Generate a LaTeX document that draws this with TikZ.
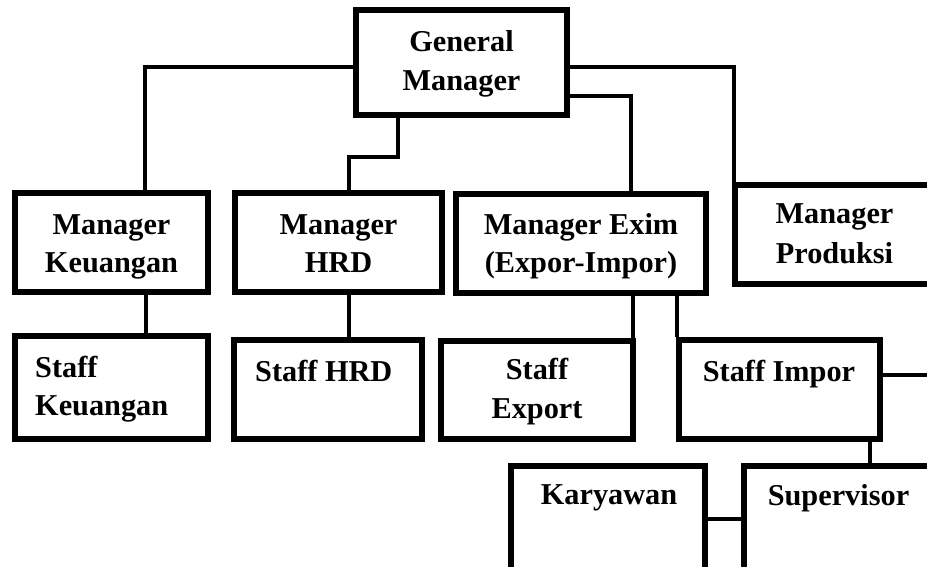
\documentclass[tikz,border=0pt]{standalone}
\usepackage{fontspec}
\setmainfont{Liberation Serif}
\begin{document}
\begin{tikzpicture}[x=1pt,y=-1pt,
  box/.style={draw=black,line width=6pt,rectangle,inner sep=0pt,fill=white},
  conn/.style={draw=black,line width=3.3pt},
  txt/.style={anchor=base,inner sep=0pt,font=\fontsize{30.3}{38}\selectfont\bfseries},
  txtl/.style={txt,anchor=base west}]
\useasboundingbox (0,0) rectangle (927,567);
\clip (0,0) rectangle (927,567);
\fill[white] (0,0) rectangle (927,567);
% boxes
\node[box,minimum width=211pt,minimum height=105pt] (gm) at (461.5,62.5) {};
\node[box,minimum width=193pt,minimum height=99pt] (mk) at (111.5,242.5) {};
\node[box,minimum width=207pt,minimum height=99pt] (mh) at (338.5,242.5) {};
\node[box,minimum width=250pt,minimum height=99pt] (me) at (581,243.5) {};
\node[box,minimum width=222pt,minimum height=99pt] (mp) at (846,234.5) {};
\node[box,minimum width=193pt,minimum height=103pt] (sk) at (111.5,387.5) {};
\node[box,minimum width=188pt,minimum height=99pt] (sh) at (328,389.5) {};
\node[box,minimum width=192pt,minimum height=98pt] (se) at (537,390) {};
\node[box,minimum width=201pt,minimum height=99pt] (si) at (779.5,389.5) {};
\node[box,minimum width=194pt,minimum height=134pt] (ka) at (608,533) {};
\node[box,minimum width=216pt,minimum height=134pt] (su) at (852,533) {};
\coordinate (rightedge) at (935,375);
% connectors
\draw[conn] (gm.west |- 0,67) -| (mk.north -| 145,0);
\draw[conn] (gm.south -| 398,0) -- (398,157) -| (mh.north -| 349,0);
\draw[conn] (gm.east |- 0,67) -| (mp.north -| 734,0);
\draw[conn] (gm.east |- 0,96) -| (me.north -| 631,0);
\draw[conn] (mk.south -| 146,0) -- (sk.north -| 146,0);
\draw[conn] (mh.south -| 349,0) -- (sh.north -| 349,0);
\draw[conn] (me.south -| 633,0) -- (se.north -| 633,0);
\draw[conn] (me.south -| 677,0) -- (si.north -| 677,0);
\draw[conn] (si.south -| 870,0) -- (su.north -| 870,0);
\draw[conn] (si.east |- rightedge) -- (rightedge);
\draw[conn] (ka.east |- 0,519) -- (su.west |- 0,519);
% texts
\node[txt] (gmt1) at (461.5,52) {General};
\node[txt] (gmt2) at (461.5,91) {Manager};
\node[txt] (mkt1) at (111.5,234) {Manager};
\node[txt] (mkt2) at (111.5,272) {Keuangan};
\node[txt] (mht1) at (338.5,234) {Manager};
\node[txt] (mht2) at (338.5,272) {HRD};
\node[txt] (met1) at (581,234) {Manager Exim};
\node[txt] (met2) at (581,272) {(Expor-Impor)};
\node[txt] (mpt1) at (834.5,223) {Manager};
\node[txt] (mpt2) at (834.5,263) {Produksi};
\node[txtl] (skt1) at (35,377) {Staff};
\node[txtl] (skt2) at (35,415) {Keuangan};
\node[txtl] (sht) at (255,381) {Staff HRD};
\node[txt] (set1) at (537,379) {Staff};
\node[txt] (set2) at (537,418) {Export};
\node[txt] (sit) at (779,381) {Staff Impor};
\node[txt] (kat) at (609,504) {Karyawan};
\node[txt] (sut) at (838.5,505) {Supervisor};
\end{tikzpicture}
\end{document}
